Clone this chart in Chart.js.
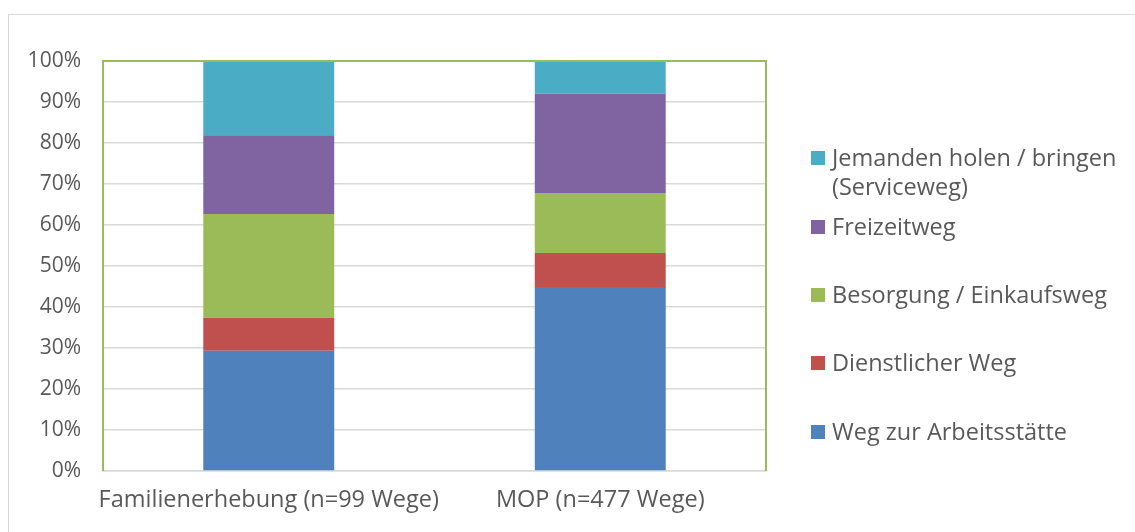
<!DOCTYPE html>
<html>
<head>
<meta charset="utf-8">
<script src="https://cdn.jsdelivr.net/npm/chart.js@4/dist/chart.umd.min.js"></script>
<style>
  html, body { margin: 0; padding: 0; background: #fff; }
  #wrap { position: relative; width: 1135px; height: 532px; overflow: hidden; }
  #frame { position: absolute; left: 8px; top: 14px; right: -2px; bottom: -2px;
           border-left: 1px solid #d9d9d9; border-top: 1px solid #d9d9d9; }
  #legend { position: absolute; left: 811px; top: 0; font-family: "Open Sans", sans-serif;
            font-size: 23.5px; color: #595959; }
  .item { position: absolute; left: 0; display: flex; align-items: flex-start; white-space: nowrap; }
  .box { width: 14px; height: 14px; margin-top: 8px; margin-right: 7px; flex: none; }
  .txt { line-height: 29px; }
</style>
</head>
<body>
<div id="wrap">
  <div id="frame"></div>
  <canvas id="c" width="1135" height="532"></canvas>
  <div id="legend"></div>
</div>
<script>
// categories and values (percent of trips)
const categories = ['Familienerhebung (n=99 Wege)', 'MOP (n=477 Wege)'];
const seriesNames = ['Weg zur Arbeitsstätte', 'Dienstlicher Weg', 'Besorgung / Einkaufsweg', 'Freizeitweg', 'Jemanden holen / bringen|(Serviceweg)'];
const arbeit = [29.3, 44.9];
const dienst = [8.1, 8.3];
const besorgung = [25.3, 14.6];
const freizeit = [19.2, 24.2];
const service = [18.1, 8.0];
const yTicks = [0, 10, 20, 30, 40, 50, 60, 70, 80, 90, 100];

const colors = ['#4F81BD', '#C0504D', '#9BBB59', '#8064A2', '#4BACC6'];
const values = [arbeit, dienst, besorgung, freizeit, service];
const textColor = '#595959';
const font = '"Open Sans", sans-serif';

// green border around the plot area (top, left, right)
const plotBorder = {
    id: 'plotBorder',
    afterDraw(chart) {
        const { ctx, chartArea: a } = chart;
        ctx.save();
        ctx.strokeStyle = '#9BBB59';
        ctx.lineWidth = 2;
        ctx.beginPath();
        ctx.moveTo(a.left, a.bottom);
        ctx.lineTo(a.left, a.top);
        ctx.lineTo(a.right, a.top);
        ctx.lineTo(a.right, a.bottom);
        ctx.stroke();
        ctx.restore();
    }
};

const chart = new Chart(document.getElementById('c'), {
    type: 'bar',
    data: {
        labels: categories,
        datasets: values.map((v, i) => ({
            label: seriesNames[i],
            data: v,
            backgroundColor: colors[i],
            borderWidth: 0,
            categoryPercentage: 1,
            barPercentage: 0.395
        }))
    },
    options: {
        responsive: false,
        animation: false,
        layout: { padding: { left: 0, top: 61, right: 369, bottom: 0 } },
        plugins: { legend: { display: false }, tooltip: { enabled: false } },
        scales: {
            x: {
                stacked: true,
                grid: { display: false, drawTicks: false },
                border: { display: true, color: '#d9d9d9', width: 1.5 },
                ticks: { color: textColor, font: { family: font, size: 23.5 }, padding: 15,
                         maxRotation: 0, autoSkip: false },
                afterFit(s) { s.height = 61; }
            },
            y: {
                stacked: true,
                min: 0,
                max: 100,
                afterBuildTicks(s) { s.ticks = yTicks.map(v => ({ value: v })); },
                grid: { color: '#d9d9d9', lineWidth: 1.5, drawTicks: false },
                border: { display: false },
                ticks: { color: textColor, font: { family: font, size: 21 }, padding: 22, callback: v => v + '%' },
                afterFit(s) { s.width = 103; }
            }
        }
    },
    plugins: [plotBorder]
});

// legend, reversed like the original
const legendTops = [143, 212, 280, 348, 417];
const legend = document.getElementById('legend');
chart.data.datasets.slice().reverse().forEach((ds, i) => {
    const item = document.createElement('div');
    item.className = 'item';
    item.style.top = legendTops[i] + 'px';
    item.innerHTML = '<div class="box" style="background:' + ds.backgroundColor + '"></div>' +
        '<div class="txt">' + ds.label.split('|').join('<br>') + '</div>';
    legend.appendChild(item);
});
</script>
</body>
</html>
